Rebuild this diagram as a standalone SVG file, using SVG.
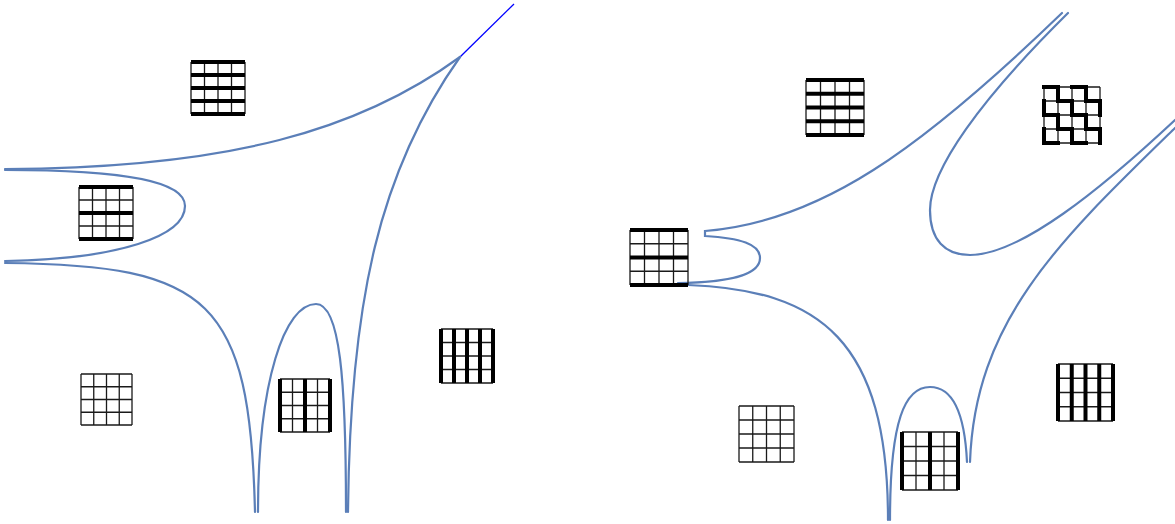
<svg xmlns="http://www.w3.org/2000/svg" width="1175" height="524" viewBox="0 0 1175 524">
<style>
.c{fill:none;stroke:#5b7fb8;stroke-width:2.2;stroke-linecap:round}
.thin{fill:none;stroke:#1a1a1a;stroke-width:1.3}
.thick{fill:none;stroke:#000;stroke-width:4}
.sq{stroke-linecap:square}
</style>
<rect width="1175" height="524" fill="#fff"/>
<g id="connectors">
<path class="c" d="M5,169 C230,168 360,130 460,57"/>
<path d="M460,57 L514,4" fill="none" stroke="#0000ff" stroke-width="1.3"/>
<path class="c" d="M460,57 C380,170 350,300 348,512"/>
<path class="c" d="M5,170 C130,170 185,182 185,206 C185,236 120,259 5,261"/>
<path class="c" d="M5,263 C210,265 250,300 255,512"/>
<path class="c" d="M258,512 C258,380 285,304 316,304 C340,304 346,380 346,512"/>
<path class="c" d="M678,283 C740,282 760,272 760,258 C760,244 740,238 705,236 L705,231 C820,222 920,150 1062,13"/>
<path class="c" d="M1068,13 C980,100 930,170 930,210 C930,240 945,255 970,255 C1020,255 1100,190 1175,120"/>
<path class="c" d="M1175,128 C1060,240 975,320 970,462"/>
<path class="c" d="M688,285 C820,290 888,340 888,520"/>
<path class="c" d="M890,520 C890,420 905,387 930,387 C955,387 965,420 967,462"/>
</g>
<g id="grid1">
<path class="thin" d="M191,62V114M204.5,62V114M218,62V114M231.5,62V114M245,62V114"/>
<path class="thick" d="M191,62H245M191,75H245M191,88H245M191,101H245M191,114H245"/>
</g>
<g id="grid2">
<path class="thin" d="M79,187V239M92.5,187V239M106,187V239M119.5,187V239M133,187V239M79,200H133M79,226H133"/>
<path class="thick" d="M79,187H133M79,213H133M79,239H133"/>
</g>
<g id="grid3">
<path class="thin" d="M81,374V425M93.75,374V425M106.5,374V425M119.25,374V425M132,374V425M81,374H132M81,386.75H132M81,399.5H132M81,412.25H132M81,425H132"/>
</g>
<g id="grid4">
<path class="thin" d="M280,379H330M280,392.25H330M280,405.5H330M280,418.75H330M280,432H330M292.5,379V432M317.5,379V432"/>
<path class="thick" d="M280,379V432M305,379V432M330,379V432"/>
</g>
<g id="grid5">
<path class="thin" d="M441,329H493M441,342.5H493M441,356H493M441,369.5H493M441,383H493"/>
<path class="thick" d="M441,329V383M454,329V383M467,329V383M480,329V383M493,329V383"/>
</g>
<g id="grid6">
<path class="thin" d="M806,80V135M820.5,80V135M835,80V135M849.5,80V135M864,80V135"/>
<path class="thick" d="M806,80H864M806,93.75H864M806,107.5H864M806,121.25H864M806,135H864"/>
</g>
<g id="grid7">
<path class="thin" d="M1044,87V143M1058,87V143M1072,87V143M1086,87V143M1100,87V143M1044,87H1100M1044,101H1100M1044,115H1100M1044,129H1100M1044,143H1100"/>
<path class="thick sq" d="M1044,87H1058V101H1072V115M1072,87H1086V101H1100V115M1044,101V115M1044,115H1058V129H1072V143M1072,115H1086V129H1100V143M1044,129V143M1044,143H1058M1072,143H1086"/>
</g>
<g id="grid8">
<path class="thin" d="M630,230V285M644.5,230V285M659,230V285M673.5,230V285M688,230V285M630,243.75H688M630,271.25H688"/>
<path class="thick" d="M630,230H688M630,257.5H688M630,285H688"/>
</g>
<g id="grid9">
<path class="thin" d="M739,406V462M752.75,406V462M766.5,406V462M780.25,406V462M794,406V462M739,406H794M739,420H794M739,434H794M739,448H794M739,462H794"/>
</g>
<g id="grid10">
<path class="thin" d="M902,432H958M902,446.5H958M902,461H958M902,475.5H958M902,490H958M916,432V490M944,432V490"/>
<path class="thick" d="M902,432V490M930,432V490M958,432V490"/>
</g>
<g id="grid11">
<path class="thin" d="M1058,364H1113M1058,378.25H1113M1058,392.5H1113M1058,406.75H1113M1058,421H1113"/>
<path class="thick" d="M1058,364V421M1071.75,364V421M1085.5,364V421M1099.25,364V421M1113,364V421"/>
</g>
</svg>
